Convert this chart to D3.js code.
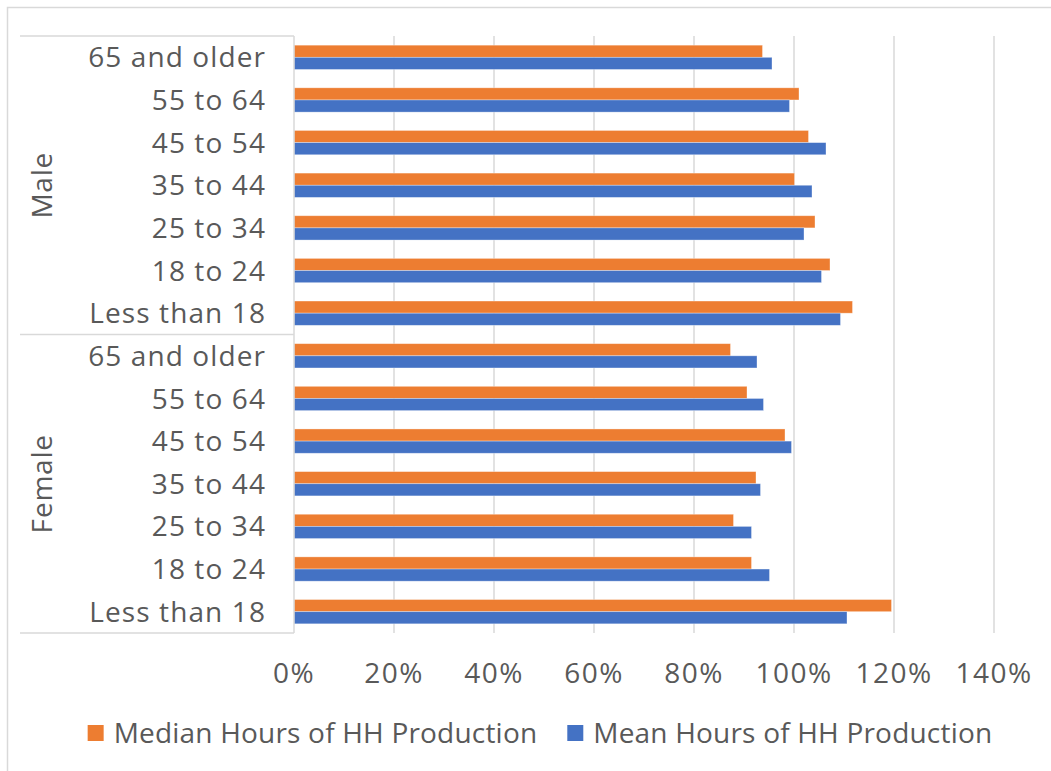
<!DOCTYPE html>
<html>
<head>
<meta charset="utf-8">
<script src="https://cdn.jsdelivr.net/npm/d3@7"></script>
<style>
  html, body { margin: 0; padding: 0; background: #fff; }
  svg { display: block; }
  text { font-family: "Open Sans", "Liberation Sans", Arial, sans-serif; fill: #595959; }
</style>
</head>
<body>
<svg id="chart" width="1051" height="771"></svg>
<script>
// Age groups, listed top to bottom within each gender block
const ageGroups = ["65 and older", "55 to 64", "45 to 54", "35 to 44", "25 to 34", "18 to 24", "Less than 18"];
const genders = ["Male", "Female"];

// Hours of household production, relative to the overall reference level
const medianMale   = [0.937, 1.010, 1.029, 1.001, 1.042, 1.072, 1.117];
const meanMale     = [0.956, 0.991, 1.064, 1.036, 1.020, 1.055, 1.093];
const medianFemale = [0.873, 0.906, 0.982, 0.924, 0.879, 0.915, 1.195];
const meanFemale   = [0.926, 0.939, 0.995, 0.933, 0.915, 0.951, 1.106];

const seriesNames = ["Median Hours of HH Production", "Mean Hours of HH Production"];
const seriesColors = ["#ED7D31", "#4472C4"];
const xTicks = [0, 0.2, 0.4, 0.6, 0.8, 1.0, 1.2, 1.4];

// Flat rows: one per gender / age group
const valuesByGender = {
  Male:   [medianMale, meanMale],
  Female: [medianFemale, meanFemale]
};
const rows = [];
genders.forEach(g => {
  ageGroups.forEach((a, i) => {
    rows.push({
      key: g + "|" + a,
      gender: g,
      age: a,
      values: valuesByGender[g].map(arr => arr[i])
    });
  });
});

const svg = d3.select("#chart");
const gridColor = "#d9d9d9";

// Outer chart border
svg.append("rect")
  .attr("x", 7.5).attr("y", 7.5)
  .attr("width", 1100).attr("height", 800)
  .attr("fill", "none").attr("stroke", gridColor).attr("stroke-width", 1.5);

const plotTop = 36, plotBottom = 633;
const x = d3.scaleLinear().domain([0, 1.4]).range([294, 994]);
const y = d3.scaleBand()
  .domain(rows.map(r => r.key))
  .range([plotTop, plotBottom])
  .paddingInner(0.43)
  .paddingOuter(0.215);
const ySeries = d3.scaleBand()
  .domain(d3.range(seriesNames.length))
  .range([0, y.bandwidth()]);

// Vertical gridlines
svg.append("g")
  .selectAll("line")
  .data(xTicks.slice(1))
  .join("line")
  .attr("x1", d => x(d)).attr("x2", d => x(d))
  .attr("y1", plotTop).attr("y2", plotBottom)
  .attr("stroke", gridColor).attr("stroke-width", 1.5);

// Bars
const rowG = svg.append("g")
  .selectAll("g")
  .data(rows)
  .join("g")
  .attr("transform", d => `translate(0,${y(d.key)})`);

rowG.selectAll("rect")
  .data(d => d.values.map((v, i) => ({ v, i })))
  .join("rect")
  .attr("x", x(0))
  .attr("y", d => ySeries(d.i))
  .attr("width", d => x(d.v) - x(0))
  .attr("height", ySeries.bandwidth())
  .attr("fill", d => seriesColors[d.i])
  .attr("stroke", "#ffffff")
  .attr("stroke-opacity", 0.45)
  .attr("stroke-width", 0.75);

// Category axis line and group separators
const step = y.step();
svg.append("line")
  .attr("x1", x(0)).attr("x2", x(0))
  .attr("y1", plotTop).attr("y2", plotBottom)
  .attr("stroke", gridColor).attr("stroke-width", 1.5);

const sepY = [plotTop, plotTop + step * ageGroups.length, plotBottom];
svg.append("g")
  .selectAll("line")
  .data(sepY)
  .join("line")
  .attr("x1", 20).attr("x2", x(0))
  .attr("y1", d => d).attr("y2", d => d)
  .attr("stroke", gridColor).attr("stroke-width", 1.5);

// Age group labels
svg.append("g")
  .selectAll("text")
  .data(rows)
  .join("text")
  .attr("x", 266)
  .attr("y", d => y(d.key) + y.bandwidth() / 2)
  .attr("dy", "0.36em")
  .attr("text-anchor", "end")
  .attr("font-size", 28)
  .attr("letter-spacing", 1.1)
  .text(d => d.age);

// Gender labels, rotated
svg.append("g")
  .selectAll("text")
  .data(genders)
  .join("text")
  .attr("transform", (g, i) => {
    const cy = plotTop + step * ageGroups.length * (i + 0.5);
    return `translate(52,${cy}) rotate(-90)`;
  })
  .attr("text-anchor", "middle")
  .attr("font-size", 28)
  .attr("letter-spacing", 0.8)
  .text(d => d);

// Value axis tick labels
const fmt = d3.format(".0%");
svg.append("g")
  .selectAll("text")
  .data(xTicks)
  .join("text")
  .attr("x", d => x(d))
  .attr("y", 683)
  .attr("text-anchor", "middle")
  .attr("font-size", 28)
  .attr("letter-spacing", 1.5)
  .text(d => fmt(d));

// Legend
const legend = svg.append("g");
const items = legend.selectAll("g")
  .data(seriesNames)
  .join("g");
items.append("rect")
  .attr("y", 725).attr("width", 16).attr("height", 16)
  .attr("fill", (d, i) => seriesColors[i]);
items.append("text")
  .attr("x", 26).attr("y", 743)
  .attr("font-size", 28)
  .attr("letter-spacing", 0.2)
  .text(d => d);

let cursor = 0;
const widths = [];
items.each(function () {
  const w = 26 + d3.select(this).select("text").node().getComputedTextLength();
  widths.push(w);
});
const gap = 30;
const total = d3.sum(widths) + gap * (widths.length - 1);
cursor = 540 - total / 2;
items.attr("transform", (d, i) => {
  const tx = cursor;
  cursor += widths[i] + gap;
  return `translate(${tx},0)`;
});
</script>
</body>
</html>
